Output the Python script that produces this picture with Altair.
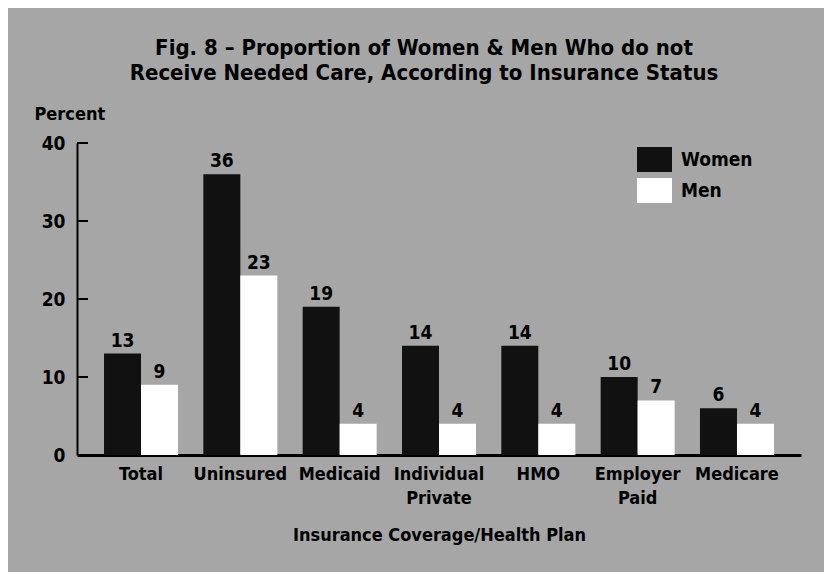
import altair as alt
import pandas as pd

categories = ["Total", "Uninsured", "Medicaid", "Individual\nPrivate", "HMO", "Employer\nPaid", "Medicare"]
women = [13, 36, 19, 14, 14, 10, 6]
men = [9, 23, 4, 4, 4, 7, 4]
groups = ["Women", "Men"]
y_ticks = [10, 20, 30, 40]

rows = []
for c, w, m in zip(categories, women, men):
    rows.append({"cat": c, "sex": "Women", "val": w})
    rows.append({"cat": c, "sex": "Men", "val": m})
df = pd.DataFrame(rows)
ticks_df = pd.DataFrame({"v": y_ticks})

FONT = "DejaVu Sans Condensed, sans-serif"

x_enc = alt.X(
    "cat:N",
    sort=categories,
    scale=alt.Scale(paddingInner=0.255, paddingOuter=0.272),
    axis=alt.Axis(
        title="Insurance Coverage/Health Plan",
        labelAngle=0,
        labelExpr="split(datum.label, '\\n')",
        labelFont=FONT, labelFontSize=18, labelFontWeight="bold", labelColor="#000",
        labelBaseline="top", labelPadding=10, labelLineHeight=24,
        ticks=False, domainColor="#000", domainWidth=3,
        titleFont=FONT, titleFontSize=18, titleFontWeight="bold", titleColor="#000",
        titlePadding=19,
    ),
)
y_scale = alt.Scale(domain=[0, 40], nice=False)
y_enc = alt.Y(
    "val:Q",
    scale=y_scale,
    axis=alt.Axis(
        title="Percent", values=[0, 10, 20, 30, 40], grid=False, ticks=False,
        labelFont=FONT, labelFontSize=19, labelFontWeight="bold", labelColor="#000",
        labelPadding=12, domainColor="#000", domainWidth=2,
        titleFont=FONT, titleFontSize=18, titleFontWeight="bold", titleColor="#000",
        titleAngle=0, titleAlign="left", titleBaseline="alphabetic",
        titleX=-43, titleY=-24,
    ),
)
color_enc = alt.Color(
    "sex:N",
    sort=groups,
    scale=alt.Scale(domain=groups, range=["#111111", "#ffffff"]),
    legend=alt.Legend(
        title=None, orient="none", legendX=560, legendY=-1,
        symbolType="M-1,-0.72H1V0.72H-1Z", symbolSize=1225,
        symbolStrokeWidth=0, symbolOpacity=1,
        labelFont=FONT, labelFontSize=19, labelFontWeight="bold", labelColor="#000",
        labelOffset=9, rowPadding=-3,
    ),
)

base = alt.Chart(df).encode(
    x=x_enc,
    xOffset=alt.XOffset("sex:N", sort=groups),
)

bars = base.mark_bar().encode(y=y_enc, color=color_enc)
labels = base.mark_text(
    font=FONT, fontSize=19, fontWeight="bold", color="#000", baseline="bottom", dy=-3
).encode(y=alt.Y("val:Q", scale=y_scale), text="val:Q")

tick_rules = alt.Chart(ticks_df).mark_rule(color="#000", strokeWidth=2).encode(
    y=alt.Y("v:Q", scale=y_scale),
    x=alt.value(0),
    x2=alt.value(11),
)

chart = alt.layer(bars, labels, tick_rules).properties(
    width=724,
    height=312,
    title=alt.TitleParams(
        text=["Fig. 8 \u2013 Proportion of Women & Men Who do not",
              "Receive Needed Care, According to Insurance Status"],
        font=FONT, fontSize=22, fontWeight="bold", color="#000",
        anchor="middle", dx=-15, offset=20, lineHeight=25,
    ),
    autosize=alt.AutoSizeParams(type="none"),
    padding={"left": 69, "top": 135, "right": 23, "bottom": 117},
).configure(
    background="#a6a6a6",
).configure_view(stroke=None)

chart.save("out.html", embed_options={"renderer": "svg", "actions": False})
